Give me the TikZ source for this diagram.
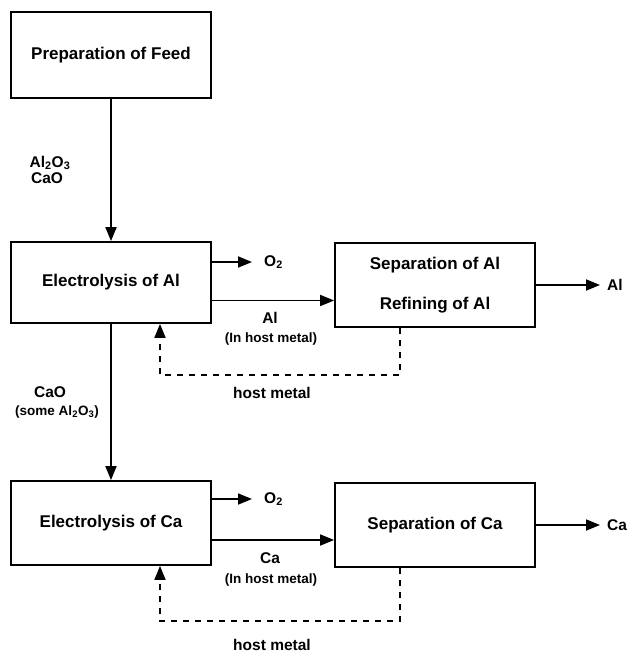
\documentclass[tikz,border=0pt]{standalone}
\usepackage{fontspec}
\setmainfont{Liberation Sans}
\usetikzlibrary{arrows.meta}
\tikzset{
	box/.style={draw, line width=1.8pt, minimum width=200pt, align=center, font=\fontsize{17}{19}\selectfont\bfseries},
	lbl/.style={inner sep=1pt, font=\fontsize{15.5}{17}\selectfont\bfseries},
	klein/.style={inner sep=1pt, font=\fontsize{13.5}{15}\selectfont\bfseries},
	pfeil/.style={line width=1.8pt, -{Triangle[length=14pt,width=11pt]}},
	rueck/.style={pfeil, dash pattern=on 6pt off 6pt},
}
\begin{document}
\begin{tikzpicture}[x=1pt,y=-1pt]
	\useasboundingbox (0,0) rectangle (629,653);
% Kaesten:
	\node [box, minimum height=86pt] (feed) at (111,55) {Preparation of Feed};
	\node [box, minimum height=81pt] (elAl) at (111,282.5) {Electrolysis of Al};
	\node [box, minimum height=84pt] (sepAl) at (435,285) {Separation of Al\\[21pt]Refining of Al};
	\node [box, minimum height=84pt] (elCa) at (111,523) {Electrolysis of Ca};
	\node [box, minimum height=84pt] (sepCa) at (435,525) {Separation of Ca};
% Beschriftungen:
	% Al-Stufe
	\node [lbl] (feedA) at (50,163) {Al\textsubscript{2}O\textsubscript{3}};
	\node [lbl] (feedB) at (47,178) {CaO};
	\node [lbl, anchor=west, inner xsep=12pt] (o2Al) at (252,262) {O\textsubscript{2}};
	\node [lbl] (flowAl) at (270,318) {Al};
	\node [klein] (flowAlB) at (271,339) {(In host metal)};
	\node [lbl, anchor=west, inner xsep=7pt] (outAl) at (600,285) {Al};
	\node [lbl] (hostAl) at (272,393) {host metal};
	% Ca-Stufe
	\node [lbl] (feedCa) at (50,392) {CaO};
	\node [klein] (feedCaB) at (57,412) {(some Al\textsubscript{2}O\textsubscript{3})};
	\node [lbl, anchor=west, inner xsep=12pt] (o2Ca) at (252,499) {O\textsubscript{2}};
	\node [lbl] (flowCa) at (270,558) {Ca};
	\node [klein] (flowCaB) at (271,580) {(In host metal)};
	\node [lbl, anchor=west, inner xsep=7pt] (outCa) at (600,525) {Ca};
	\node [lbl] (hostCa) at (272,645) {host metal};
% Pfeile:
	\draw [pfeil] (feed) -- (elAl);
	\draw [pfeil] (elAl) -- (elCa);
	% Al-Stufe
	\draw [pfeil] (elAl.east |- o2Al.west) -- (o2Al.west);
	\coordinate (flowA) at ([yshift=-18pt]elAl.east);
	\draw [pfeil] (flowA) -- (flowA -| sepAl.west);
	\draw [pfeil] (sepAl) -- (outAl);
	% Ca-Stufe
	\draw [pfeil] (elCa.east |- o2Ca.west) -- (o2Ca.west);
	\coordinate (flowC) at ([yshift=-17pt]elCa.east);
	\draw [pfeil] (flowC) -- (flowC -| sepCa.west);
	\draw [pfeil] (sepCa) -- (outCa);
% Rueckfuehrung:
	\coordinate (downA) at ([xshift=-35pt]sepAl.south);
	\coordinate (backA) at (160,375);
	\draw [rueck] (downA) -- (downA |- backA) -- (backA) -- (backA |- elAl.south);
	\coordinate (downC) at ([xshift=-35pt]sepCa.south);
	\coordinate (backC) at (160,621);
	\draw [rueck] (downC) -- (downC |- backC) -- (backC) -- (backC |- elCa.south);
\end{tikzpicture}
\end{document}
